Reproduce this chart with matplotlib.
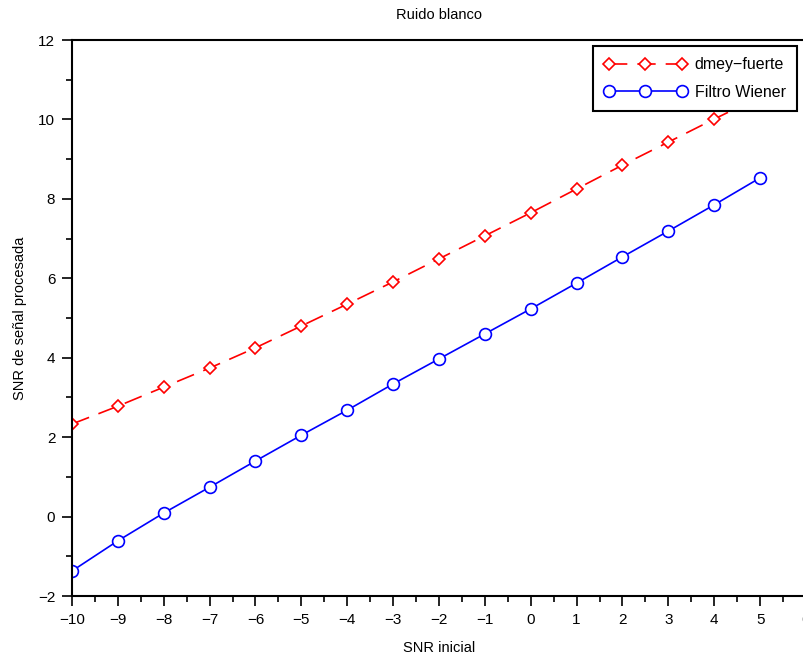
import numpy as np
import matplotlib
matplotlib.use("Agg")
import matplotlib.pyplot as plt
from matplotlib.ticker import MultipleLocator

plt.rcParams["font.family"] = ["Liberation Sans", "DejaVu Sans"]
plt.rcParams["axes.unicode_minus"] = True

# SNR values
snr_inicial = [-10, -9, -8, -7, -6, -5, -4, -3, -2, -1, 0, 1, 2, 3, 4, 5]
dmey_fuerte = [2.33, 2.78, 3.26, 3.74, 4.25, 4.80, 5.35, 5.91, 6.49, 7.07,
               7.65, 8.25, 8.85, 9.43, 10.01, 10.57]
filtro_wiener = [-1.37, -0.61, 0.09, 0.74, 1.40, 2.05, 2.68, 3.34, 3.97, 4.60,
                 5.23, 5.88, 6.54, 7.19, 7.85, 8.53]

fig = plt.figure(figsize=(8.04, 6.59), dpi=100)
# axes runs slightly past the right edge, as in the reference
ax = fig.add_axes([72 / 804, 63 / 659, 734 / 804, 556 / 659])

ax.plot(snr_inicial, dmey_fuerte, color="red", linestyle=(0, (11, 6)),
        linewidth=1.2, marker="D", markersize=6, markerfacecolor="white",
        markeredgecolor="red", markeredgewidth=1.2, label="dmey\u2212fuerte")
ax.plot(snr_inicial, filtro_wiener, color="blue", linewidth=1.2,
        marker="o", markersize=8.5, markerfacecolor="white",
        markeredgecolor="blue", markeredgewidth=1.2, label="Filtro Wiener")

ax.set_xlim(-10, 6)
ax.set_ylim(-2, 12)
ax.xaxis.set_major_locator(MultipleLocator(1))
ax.xaxis.set_minor_locator(MultipleLocator(0.5))
ax.yaxis.set_major_locator(MultipleLocator(2))
ax.yaxis.set_minor_locator(MultipleLocator(1))

ax.tick_params(which="both", direction="out", width=1.2, labelsize=11,
               top=False, right=False)
ax.tick_params(which="major", length=7, pad=5)
ax.tick_params(which="minor", length=4)
for s in ax.spines.values():
    s.set_linewidth(1.5)

ax.set_xlabel("SNR inicial", fontsize=10.5, labelpad=10)
ax.set_ylabel("SNR de señal procesada", fontsize=10.5, labelpad=8)
ax.set_title("Ruido blanco", fontsize=10.5, pad=15)

leg = ax.legend(loc="upper right", bbox_to_anchor=(797 / 804, 1 - 46 / 659),
                bbox_transform=fig.transFigure, borderaxespad=0,
                fancybox=False, framealpha=1, edgecolor="black",
                fontsize=11.5, numpoints=3, handlelength=5.2, handletextpad=0.5,
                borderpad=0.7, labelspacing=0.8)
leg.get_frame().set_linewidth(1.5)

fig.savefig("out.png", dpi=100)
